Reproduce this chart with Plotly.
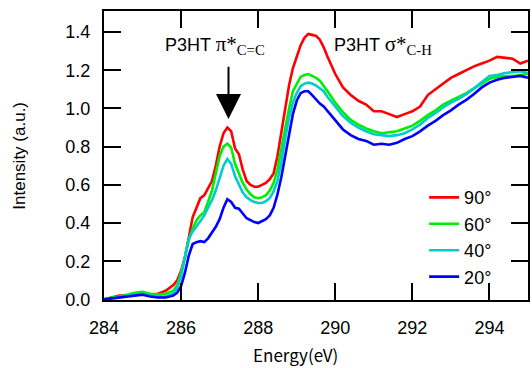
import plotly.graph_objects as go

energy = [284.0, 284.2, 284.4, 284.6, 284.8, 285.0, 285.2, 285.4, 285.6, 285.8,
          285.9, 286.0, 286.1, 286.2, 286.3, 286.4, 286.5, 286.6, 286.7, 286.8,
          286.9, 287.0, 287.1, 287.2, 287.3, 287.4, 287.5, 287.6, 287.7, 287.8,
          287.9, 288.0, 288.1, 288.2, 288.3, 288.4, 288.5, 288.6, 288.7, 288.8,
          288.9, 289.0, 289.1, 289.2, 289.3, 289.4, 289.5, 289.6, 289.7, 289.8,
          289.9, 290.0, 290.2, 290.4, 290.6, 290.8, 291.0, 291.2, 291.4, 291.6,
          291.8, 292.0, 292.2, 292.4, 292.6, 292.8, 293.0, 293.2, 293.4, 293.6,
          293.8, 294.0, 294.2, 294.4, 294.6, 294.8, 295.0]

i_90 = [0.00, 0.01, 0.02, 0.02, 0.025, 0.03, 0.025, 0.03, 0.045, 0.075,
        0.10, 0.15, 0.22, 0.32, 0.43, 0.48, 0.53, 0.545, 0.58, 0.62,
        0.70, 0.80, 0.87, 0.90, 0.88, 0.79, 0.76, 0.68, 0.62, 0.60,
        0.59, 0.59, 0.60, 0.61, 0.63, 0.66, 0.75, 0.87, 1.00, 1.12,
        1.21, 1.27, 1.33, 1.37, 1.39, 1.385, 1.38, 1.36, 1.32, 1.27,
        1.22, 1.18, 1.11, 1.07, 1.04, 1.02, 0.985, 0.985, 0.97, 0.955,
        0.97, 0.985, 1.01, 1.07, 1.10, 1.13, 1.16, 1.18, 1.20, 1.22,
        1.235, 1.25, 1.27, 1.265, 1.26, 1.235, 1.25]

i_60 = [0.00, 0.01, 0.015, 0.025, 0.035, 0.04, 0.03, 0.025, 0.03, 0.045,
        0.075, 0.14, 0.22, 0.31, 0.37, 0.415, 0.44, 0.455, 0.51, 0.57,
        0.66, 0.75, 0.80, 0.815, 0.795, 0.71, 0.66, 0.61, 0.575, 0.55,
        0.535, 0.53, 0.535, 0.545, 0.57, 0.61, 0.68, 0.79, 0.90, 1.00,
        1.09, 1.13, 1.165, 1.175, 1.18, 1.17, 1.16, 1.145, 1.12, 1.09,
        1.06, 1.03, 0.98, 0.94, 0.915, 0.895, 0.88, 0.87, 0.875, 0.88,
        0.895, 0.91, 0.935, 0.965, 0.99, 1.02, 1.04, 1.06, 1.08, 1.105,
        1.13, 1.155, 1.165, 1.17, 1.17, 1.175, 1.18]

i_40 = [0.00, 0.005, 0.01, 0.02, 0.025, 0.03, 0.02, 0.015, 0.015, 0.03,
        0.06, 0.12, 0.22, 0.32, 0.355, 0.38, 0.41, 0.44, 0.48, 0.52,
        0.57, 0.64, 0.70, 0.735, 0.71, 0.645, 0.60, 0.56, 0.535, 0.52,
        0.51, 0.505, 0.505, 0.515, 0.53, 0.565, 0.62, 0.72, 0.84, 0.95,
        1.03, 1.08, 1.115, 1.13, 1.135, 1.13, 1.12, 1.105, 1.09, 1.06,
        1.035, 1.01, 0.96, 0.925, 0.90, 0.88, 0.865, 0.86, 0.855, 0.86,
        0.87, 0.89, 0.915, 0.95, 0.975, 1.005, 1.03, 1.05, 1.075, 1.105,
        1.14, 1.17, 1.175, 1.185, 1.19, 1.195, 1.185]

i_20 = [0.00, 0.005, 0.01, 0.015, 0.02, 0.025, 0.015, 0.01, 0.01, 0.02,
        0.035, 0.07, 0.14, 0.23, 0.29, 0.30, 0.305, 0.30, 0.32, 0.35,
        0.38, 0.42, 0.48, 0.525, 0.51, 0.48, 0.475, 0.45, 0.425, 0.415,
        0.405, 0.40, 0.41, 0.42, 0.44, 0.48, 0.55, 0.64, 0.75, 0.87,
        0.97, 1.04, 1.08, 1.09, 1.09, 1.07, 1.045, 1.025, 1.01, 0.985,
        0.96, 0.935, 0.89, 0.86, 0.84, 0.83, 0.81, 0.815, 0.81, 0.82,
        0.84, 0.855, 0.88, 0.91, 0.935, 0.965, 0.99, 1.02, 1.045, 1.075,
        1.11, 1.135, 1.15, 1.16, 1.165, 1.17, 1.16]

series_names = ["90°", "60°", "40°", "20°"]
series_vals = [i_90, i_60, i_40, i_20]
colors = ["#ff0000", "#00ee00", "#00cccc", "#0000ff"]

x_ticks = [284, 286, 288, 290, 292, 294]
y_ticks = [0.0, 0.2, 0.4, 0.6, 0.8, 1.0, 1.2, 1.4]

fig = go.Figure()
for name, vals, c in zip(series_names, series_vals, colors):
    fig.add_trace(go.Scatter(x=energy, y=vals, mode="lines", name=name,
                             line=dict(color=c, width=2.6)))

sans = "Liberation Sans, Arial, sans-serif"

fig.update_layout(
    width=532, height=368,
    margin=dict(l=104, r=2, t=11, b=68),
    paper_bgcolor="white", plot_bgcolor="white",
    font=dict(family=sans, size=18, color="black"),
    showlegend=True,
    legend=dict(x=0.755, y=0.418, xanchor="left", yanchor="top",
                bgcolor="rgba(0,0,0,0)", font=dict(size=18),
                tracegroupgap=0, itemwidth=30),
    xaxis=dict(range=[284, 295], tickvals=x_ticks,
               ticktext=[str(v) for v in x_ticks],
               ticks="inside", ticklen=17, tickwidth=2, tickcolor="black",
               showline=True, linewidth=2, linecolor="black", mirror="ticks",
               showgrid=False, zeroline=False, ticklabelstandoff=10,
               tickfont=dict(size=18)),
    yaxis=dict(range=[-0.003, 1.51], tickvals=y_ticks,
               ticktext=["%.1f" % v for v in y_ticks],
               ticks="inside", ticklen=17, tickwidth=2, tickcolor="black",
               showline=True, linewidth=2, linecolor="black", mirror="ticks",
               showgrid=False, zeroline=False, ticklabelstandoff=8,
               tickfont=dict(size=18)),
)

fig.add_annotation(xref="paper", yref="paper", x=(296 - 104) / 426, y=-0.19,
                   text="Energy(eV)", showarrow=False,
                   font=dict(family="Noto Sans CJK JP, " + sans, size=17),
                   xanchor="center", yanchor="middle")
fig.add_annotation(xref="paper", yref="paper", x=-0.2, y=0.5,
                   text="Intensity (a.u.)", showarrow=False, textangle=-90,
                   font=dict(family=sans, size=17),
                   xanchor="center", yanchor="middle")

fig.add_annotation(x=284 + (163 - 104) / 38.75, y=(300 - 44) / 192.5,
                   xanchor="left", yanchor="middle", showarrow=False,
                   text="P3HT <span style='font-family:Liberation Serif;font-size:21px'>π*<sub>C=C</sub></span>",
                   font=dict(family=sans, size=18))
fig.add_annotation(x=284 + (333 - 104) / 38.75, y=(300 - 44) / 192.5,
                   xanchor="left", yanchor="middle", showarrow=False,
                   text="P3HT <span style='font-family:Liberation Serif;font-size:21px'>σ*<sub>C-H</sub></span>",
                   font=dict(family=sans, size=18))

fig.add_annotation(x=287.23, y=0.945, ax=287.23, ay=1.226,
                   axref="x", ayref="y", xref="x", yref="y",
                   showarrow=True, arrowhead=2, arrowsize=2.5, arrowwidth=2,
                   arrowcolor="black", text="")

fig.write_html("out.html")
